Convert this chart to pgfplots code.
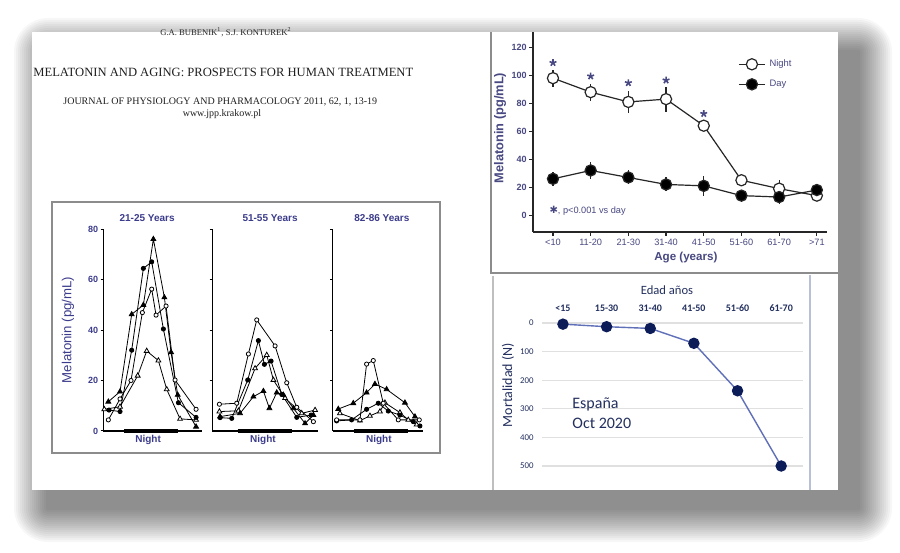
\documentclass[border=0pt]{standalone}
\usepackage{pgfplots}
\pgfplotsset{compat=1.18}
\usepackage{fontspec}
\setmainfont{Liberation Serif}
\newfontfamily\arial{Liberation Sans}
\newfontfamily\calibri{Carlito}
\newfontfamily\dejavu{DejaVu Sans}
\definecolor{lblue}{RGB}{60,60,140}
\definecolor{tblue}{RGB}{72,72,130}
\definecolor{navy}{RGB}{35,48,95}
\definecolor{mline}{RGB}{95,112,185}
\definecolor{mdot}{RGB}{12,28,88}
\definecolor{boxgray}{RGB}{140,140,140}
\definecolor{rline}{RGB}{184,192,216}
\newcommand{\fs}[1]{\fontsize{#1}{#1}\selectfont}
\pgfplotsset{
  panel/.style={
    scale only axis, height=101pt, ymin=0, ymax=80, clip=false,
    axis x line=bottom, axis y line=left,
    axis line style={-, line width=0.55pt, black},
    xtick=\empty, ytick={20,40,60,80}, yticklabels={},
    tick align=outside, major tick length=1.4pt,
    tick style={line width=0.5pt, black},
    title style={font=\arial\bfseries\fs{5}, text=lblue, anchor=center},
    xlabel style={font=\arial\bfseries\fs{5}, text=lblue, anchor=center},
  },
  ft/.style={black, line width=0.4pt, mark=triangle*, mark size=1.4pt, mark options={fill=black}},
  ot/.style={black, line width=0.4pt, mark=triangle*, mark size=1.4pt, mark options={fill=white}},
  fc/.style={black, line width=0.4pt, mark=*, mark size=1.05pt, mark options={fill=black}},
  oc/.style={black, line width=0.4pt, mark=*, mark size=1.05pt, mark options={fill=white}},
  nightbar/.style={black, line width=1.6pt, mark=none},
}
\begin{document}
\begin{tikzpicture}[x=1pt,y=1pt]
\useasboundingbox (0,0) rectangle (450,276);
\fill[white] (0,0) rectangle (450,276);
% slide shadow
\foreach \i in {1,...,17}{
  \fill[black,opacity=0.03,rounded corners=\i pt] (24-\i,22-\i) rectangle (429+\i,250+\i);
}
\fill[white] (16,31) rectangle (419,260);

% header text
\node[anchor=base, font=\fs{4.3}, text=black!85, inner sep=0] at (113,258) {G.A. BUBENIK\textsuperscript{1}, S.J. KONTUREK\textsuperscript{2}};
\node[anchor=base west, font=\fs{6.3}, text=black!88, inner sep=0] at (16.5,237.7) {MELATONIN AND AGING: PROSPECTS FOR HUMAN TREATMENT};
\node[anchor=base west, font=\fs{5}, text=black!88, inner sep=0] at (31.5,223.5) {JOURNAL OF PHYSIOLOGY AND PHARMACOLOGY 2011, 62, 1, 13-19};
\node[anchor=base, font=\fs{5}, text=black!88, inner sep=0] at (111,217.5) {www.jpp.krakow.pl};

% frames
\draw[boxgray, line width=0.6pt] (26,49.5) rectangle (220,175);
\draw[boxgray, line width=0.7pt] (245.5,260) -- (245.5,139.5) -- (419,139.5);
\draw[black!25, line width=0.6pt] (246.5,138) -- (246.5,31);
\draw[rline, line width=0.7pt] (405,138.5) -- (405,31);

% ---------- panel 1 ----------
\begin{axis}[panel, at={(51.67pt,60.5pt)}, anchor=south west, width=49.2pt, xmin=160, xmax=455,
  ytick={0,20,40,60,80}, yticklabels={0,20,40,60,80},
  yticklabel style={font=\arial\bfseries\fs{4.5}, text=lblue, inner sep=1pt},
  title={21-25 Years}, title style={at={(axis description cs:0.445,0.995)}},
  xlabel={Night}, xlabel style={at={(axis description cs:0.455,-0.045)}},
  ylabel={Melatonin (pg/mL)}, ylabel style={at={(axis description cs:-0.36,0.5)}, anchor=center, font=\arial\fs{6.6}, text=lblue}]
\addplot[nightbar] coordinates {(222,0)(383,0)};
\addplot[ot] coordinates {(163,8.6)(210,9.6)(263,21.9)(290,31.7)(325,27.9)(350,16.5)(390,4.8)(438,4.4)};
\addplot[oc] coordinates {(175,4.4)(210,12.7)(243,20)(277,46.9)(305,56.2)(318,45.9)(348,49.5)(375,20.2)(438,8.6)};
\addplot[fc] coordinates {(177,8.3)(210,7.7)(245,32)(280,64.4)(305,67)(340,40.4)(385,11.2)(438,5.4)};
\addplot[ft] coordinates {(175,11.6)(210,15.6)(245,46.2)(280,49.9)(310,76)(343,52.9)(363,31.2)(383,14.3)(438,1.7)};
\end{axis}

% ---------- panel 2 ----------
\begin{axis}[panel, at={(106.2pt,60.5pt)}, anchor=south west, width=53pt, xmin=487, xmax=805,
  title={51-55 Years}, title style={at={(axis description cs:0.544,0.995)}},
  xlabel={Night}, xlabel style={at={(axis description cs:0.477,-0.045)}}]
\addplot[nightbar] coordinates {(563,0)(727,0)};
\addplot[oc] coordinates {(508,10.6)(560,11)(595,30.5)(620,44)(675,33.7)(710,19.1)(740,9.4)(790,3.7)};
\addplot[ot] coordinates {(508,7.7)(565,8)(615,24.8)(650,30.1)(670,20.2)(705,13)(755,7)(795,8.3)};
\addplot[fc] coordinates {(510,5.3)(545,5)(593,20.2)(625,35.8)(643,26.4)(663,27.7)(695,14.5)(740,5.4)(783,6.3)};
\addplot[ft] coordinates {(510,5.7)(570,7)(610,13.6)(640,15.8)(658,9)(680,15.2)(700,14.3)(730,9)(765,3)(790,6.3)};
\end{axis}

% ---------- panel 3 ----------
\begin{axis}[panel, at={(166.3pt,60.5pt)}, anchor=south west, width=45pt, xmin=848, xmax=1118,
  title={82-86 Years}, title style={at={(axis description cs:0.548,0.995)}},
  xlabel={Night}, xlabel style={at={(axis description cs:0.514,-0.045)}}]
\addplot[nightbar] coordinates {(912,0)(1075,0)};
\addplot[ot] coordinates {(870,7)(930,4.1)(960,6)(990,7.7)(1005,11.2)(1050,7.3)(1075,4.4)(1100,2.5)};
\addplot[fc] coordinates {(860,4)(905,4.4)(950,8.6)(985,11)(1015,7.9)(1050,6.3)(1090,3.7)(1110,2)};
\addplot[ft] coordinates {(865,8.7)(910,11)(950,15.2)(975,18.6)(1010,16.5)(1065,11.2)(1095,5.7)};
\addplot[oc] coordinates {(860,4.4)(930,4.4)(950,26.5)(970,27.9)(1000,11)(1045,4.4)(1108,4.4)};
\end{axis}

% ---------- top right chart ----------
\begin{axis}[at={(266.5pt,160pt)}, anchor=south west, scale only axis, width=147pt, height=100pt,
  xmin=-0.53, xmax=7.27, ymin=-12, ymax=131, clip=false,
  axis x line=bottom, axis y line=left, axis line style={-, line width=0.7pt, black!85},
  xtick={0,...,7}, xticklabels={<10,11-20,21-30,31-40,41-50,51-60,61-70,>71},
  ytick={0,20,...,120},
  tick align=outside, major tick length=2pt, tick style={black!85, line width=0.6pt},
  /pgf/number format/assume math mode=true,
  yticklabel style={font=\arial\bfseries\fs{4.5}, text=tblue, inner sep=1pt},
  xticklabel style={font=\arial\fs{4.6}, text=tblue, inner sep=1.5pt},
  xlabel={Age (years)}, xlabel style={at={(axis description cs:0.52,-0.13)}, anchor=center, font=\arial\bfseries\fs{5.8}, text=tblue},
  ylabel={Melatonin (pg/mL)}, ylabel style={at={(axis description cs:-0.112,0.52)}, anchor=center, font=\arial\bfseries\fs{6.4}, text=tblue},
  legend style={at={(axis description cs:0.697,0.885)}, anchor=north west, draw=none, fill=none,
    font=\arial\fs{4.7}, text=tblue, row sep=1.2pt, inner sep=0pt, cells={anchor=west}},
  legend image code/.code={\draw[mark repeat=2,mark phase=2,#1] plot coordinates {(0pt,0pt)(6.5pt,0pt)(13pt,0pt)};},
  ]
\addplot[black!85, line width=0.6pt, mark=*, mark size=2.8pt, mark options={fill=white, line width=0.6pt},
  error bars/.cd, y dir=both, y explicit, error mark=none, error bar style={line width=0.6pt, black!85}]
  coordinates {(0,98) +- (0,6) (1,88) +- (0,6) (2,81) +- (0,8) (3,83) +- (0,9) (4,64) +- (0,4) (5,25) +- (0,4) (6,19) +- (0,6) (7,14) +- (0,3)};
\addlegendentry{Night}
\addplot[black!85, line width=0.6pt, mark=*, mark size=2.8pt, mark options={fill=black, line width=0.6pt},
  error bars/.cd, y dir=both, y explicit, error mark=none, error bar style={line width=0.6pt, black!85}]
  coordinates {(0,26) +- (0,5) (1,32) +- (0,6) (2,27) +- (0,5) (3,22) +- (0,5) (4,21) +- (0,7) (5,14) +- (0,3) (6,13) +- (0,5) (7,18) +- (0,4)};
\addlegendentry{Day}
\addplot[only marks, mark=star, mark size=1.8pt, mark options={tblue, line width=0.8pt}, forget plot]
  coordinates {(0,109) (1,99.4) (2,94.6) (3,96.5) (4,72.6)};
\node[anchor=west, inner sep=0pt, font=\arial\fs{4.6}, text=tblue] at (axis description cs:0.055,0.105)
  {{\dejavu\fs{5}✱}, p<0.001 vs day};
\end{axis}

% ---------- bottom right chart ----------
\begin{axis}[at={(271pt,43pt)}, anchor=south west, scale only axis, width=130.5pt, height=71.5pt,
  xmin=-0.48, xmax=5.5, ymin=0, ymax=500, y dir=reverse, clip=false,
  axis line style={draw=none}, major tick length=0pt,
  xtick={0,...,5}, xticklabels={<15,15-30,31-40,41-50,51-60,61-70},
  xticklabel pos=upper, xtick pos=upper,
  ytick={0,100,...,500},
  ymajorgrids, grid style={black!12, line width=0.6pt},
  /pgf/number format/assume math mode=true,
  xticklabel style={font=\calibri\bfseries\fs{5}, text=navy, inner sep=1pt, yshift=4.5pt},
  yticklabel style={font=\calibri\fs{4.4}, text=navy, inner sep=1pt, xshift=-3pt},
  ylabel={Mortalidad (N)}, ylabel style={at={(axis description cs:-0.13,0.566)}, anchor=center, font=\calibri\fs{7}, text=navy},
  ]
\addplot[mline, line width=0.7pt, mark=*, mark size=2.5pt, mark options={fill=mdot, draw=mdot}]
  coordinates {(0,4) (1,13) (2,19) (3,71) (4,237) (5,500)};
\node[anchor=center, font=\calibri\fs{6.3}, text=navy] at (axis description cs:0.479,1.23) {Edad años};
\node[anchor=base west, inner sep=0pt, font=\calibri\fs{8}, text=navy] at (axis description cs:0.115,0.405) {España};
\node[anchor=base west, inner sep=0pt, font=\calibri\fs{8}, text=navy] at (axis description cs:0.115,0.265) {Oct 2020};
\end{axis}
\end{tikzpicture}
\end{document}
